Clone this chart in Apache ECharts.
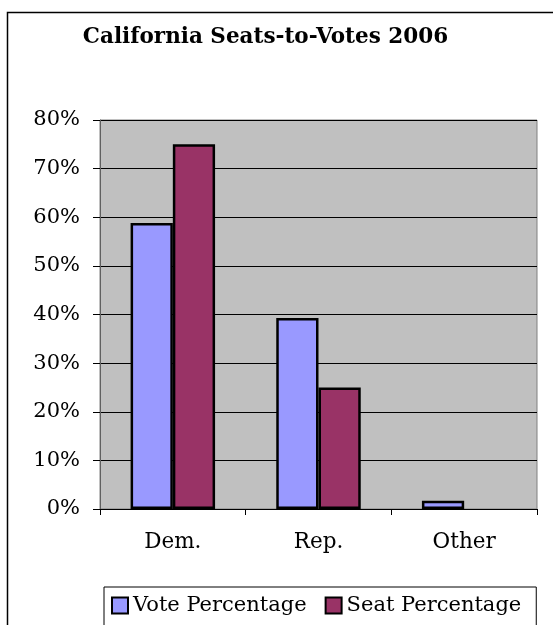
<!DOCTYPE html>
<html>
<head>
<meta charset="utf-8">
<script src="https://cdn.jsdelivr.net/npm/echarts@6/dist/echarts.min.js"></script>
<style>html,body{margin:0;padding:0;background:#fff;}#main{width:553px;height:625px;}</style>
</head>
<body>
<div id="main"></div>
<script>
const titleText = 'California Seats-to-Votes 2006';
const categories = ['Dem.', 'Rep.', 'Other'];
const votePct = [58.8, 39.3, 1.7];
const seatPct = [75, 25, 0];
const seriesNames = ['Vote Percentage', 'Seat Percentage'];
const yMin = 0, yMax = 80, yStep = 10;

const FONT = '"DejaVu Serif", Georgia, serif';
// zero-height bars are not drawn in the reference: hide their border
const asBars = arr => arr.map(v => v === 0 ? {value: v, itemStyle: {borderWidth: 0}} : v);

const chart = echarts.init(document.getElementById('main'), null, {renderer: 'canvas'});
chart.setOption({
  animation: false,
  backgroundColor: '#fff',
  graphic: [
    {type: 'rect', z: -10, shape: {x: 7.5, y: 12.5, width: 600, height: 700},
     style: {fill: 'none', stroke: '#000', lineWidth: 1.5}},
    {type: 'text', x: 265.5, y: 37.5,
     style: {text: titleText, textAlign: 'center', textVerticalAlign: 'middle',
             font: 'bold 21.5px ' + FONT, fill: '#000'}}
  ],
  grid: {left: 100, right: 16, top: 120, bottom: 116, show: true,
         backgroundColor: '#C0C0C0', borderColor: '#808080', borderWidth: 1},
  legend: {
    data: seriesNames, left: 104, top: 587, icon: 'rect',
    itemWidth: 16, itemHeight: 16, itemGap: 18,
    borderColor: '#000', borderWidth: 1, padding: [8, 15, 40, 7],
    textStyle: {fontFamily: FONT, fontSize: 21, color: '#000'},
    itemStyle: {borderColor: '#000', borderWidth: 2}
  },
  xAxis: {
    type: 'category', data: categories,
    axisLine: {lineStyle: {color: '#000', width: 1}},
    axisTick: {show: true, length: 6, lineStyle: {color: '#000'}},
    axisLabel: {fontFamily: FONT, fontSize: 21.5, color: '#000', margin: 22},
    splitLine: {show: false}
  },
  yAxis: {
    type: 'value', min: yMin, max: yMax, interval: yStep,
    axisLine: {show: true, lineStyle: {color: '#606060', width: 1}},
    axisTick: {show: true, length: 7, lineStyle: {color: '#000'}},
    axisLabel: {fontFamily: FONT, fontSize: 21, color: '#000', margin: 20,
                formatter: v => v + '%'},
    splitLine: {show: true, lineStyle: {color: '#000', width: 1}}
  },
  series: [
    {name: seriesNames[0], type: 'bar', data: asBars(votePct), barGap: '0%', barCategoryGap: '42%',
     itemStyle: {color: '#9999FF', borderColor: '#000', borderWidth: 2.5}},
    {name: seriesNames[1], type: 'bar', data: asBars(seatPct),
     itemStyle: {color: '#993366', borderColor: '#000', borderWidth: 2.5}}
  ]
});
</script>
</body>
</html>
